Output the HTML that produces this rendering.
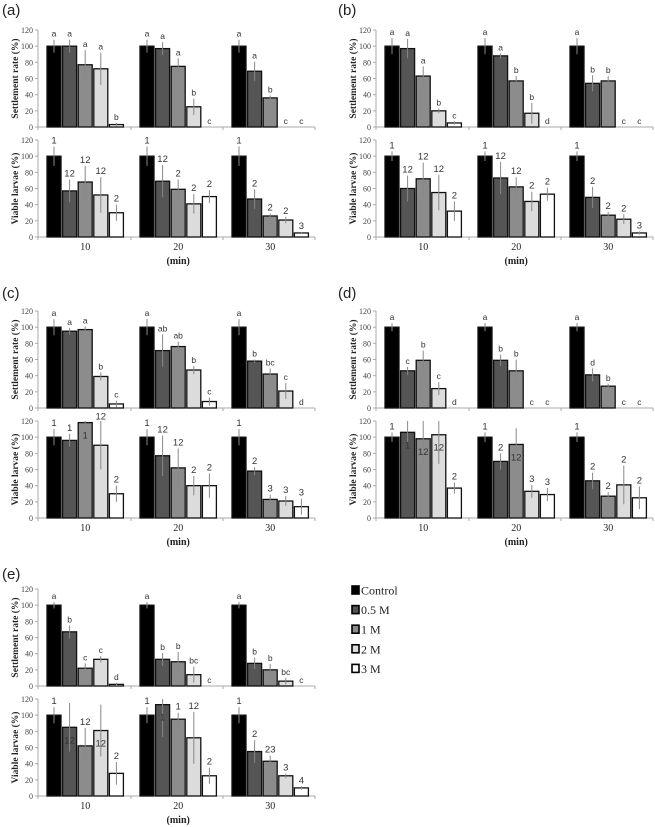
<!DOCTYPE html>
<html><head><meta charset="utf-8"><style>
body{margin:0;background:#fff}
svg{display:block}
text{font-family:"Liberation Serif",serif}
.pl{font-family:"Liberation Sans",sans-serif;font-size:15px;fill:#222}
.tk{font-size:8px;fill:#444}
.lt{font-family:"Liberation Sans",sans-serif;font-size:8.5px;fill:#333}
.nm{font-family:"Liberation Sans",sans-serif;font-size:9.5px;fill:#333}
.yt{font-size:9.5px;font-weight:bold;fill:#222}
.cat{font-size:10px;fill:#222}
.lg{font-size:12px;fill:#222}
</style></head><body>
<svg id="fig" width="655" height="827" viewBox="0 0 655 827" xmlns="http://www.w3.org/2000/svg"></svg>
<script>
const panelNames=['a','b','c','d','e'];
const groups=['10','20','30'];
const series=['Control','0.5 M','1 M','2 M','3 M'];
const yTicks=[0,20,40,60,80,100,120];
const setA=[[100,100,77,72,3],[100,97,75,25,0],[100,69,36,0,0]];
const setAErr=[[8,8,18,20,2],[8,8,10,10,0],[8,12,3,0,0]];
const setALab=[['a','a','a','a','b'],['a','a','a','b','c'],['a','a','b','c','c']];
const viaA=[[100,57,68,52,30],[100,69,59,41,50],[100,47,26,21,5]];
const viaAErr=[[12,14,20,22,10],[12,20,12,12,8],[12,12,3,4,1]];
const viaALab=[['1','12','12','12','2'],['1','12','2','2','2'],['1','2','2','2','3']];
const setB=[[100,97,63,20,5],[100,88,57,17,0],[100,54,57,0,0]];
const setBErr=[[10,12,12,3,2],[10,3,6,13,0],[10,10,6,0,0]];
const setBLab=[['a','a','a','b','c'],['a','a','b','b','d'],['a','b','b','c','c']];
const viaB=[[100,60,72,55,32],[100,73,62,44,53],[100,49,27,22,5]];
const viaBErr=[[6,16,20,22,12],[6,20,12,12,8],[6,13,4,6,2]];
const viaBLab=[['1','12','12','12','2'],['1','12','12','2','2'],['1','2','2','2','3']];
const setC=[[100,95,97,39,5],[100,71,76,47,8],[100,58,42,21,0]];
const setCErr=[[10,4,4,5,4],[10,20,6,5,5],[10,2,7,10,0]];
const setCLab=[['a','a','a','b','c'],['a','ab','ab','b','c'],['a','b','bc','c','d']];
const viaC=[[100,96,118,90,30],[100,77,62,40,40],[100,58,23,21,14]];
const viaCErr=[[10,8,3,30,10],[10,25,24,12,15],[10,5,6,6,10]];
const viaCLab=[['1','1','*1','12','2'],['1','12','12','2','2'],['1','2','3','3','3']];
const setD=[[100,46,59,24,0],[100,59,46,0,0],[100,41,27,0,0]];
const setDErr=[[5,5,12,8,0],[5,7,14,0,0],[5,8,3,0,0]];
const setDLab=[['a','c','b','c','d'],['a','b','b','c','c'],['a','d','b','c','c']];
const viaD=[[100,106,98,103,37],[100,70,91,33,29],[100,46,27,41,25]];
const viaDErr=[[6,14,32,36,7],[6,10,20,8,8],[6,10,5,24,14]];
const viaDLab=[['1','*1','*12','*12','2'],['1','2','*12','3','3'],['1','2','2','2','2']];
const setE=[[100,67,22,33,2],[100,33,30,14,0],[100,28,20,6,0]];
const setEErr=[[4,8,6,4,2],[4,8,12,10,0],[4,7,7,4,0]];
const setELab=[['a','b','c','c','d'],['a','b','b','bc','c'],['a','b','b','bc','c']];
const viaE=[[100,85,62,81,28],[100,113,95,72,25],[100,55,43,25,10]];
const viaEErr=[[10,30,22,32,14],[10,40,8,32,10],[10,14,7,3,2]];
const viaELab=[['1','*12','12','*12','2'],['1','*1','1','12','2'],['1','2','23','3','4']];

const S={a:[setA,setAErr,setALab,viaA,viaAErr,viaALab],b:[setB,setBErr,setBLab,viaB,viaBErr,viaBLab],
 c:[setC,setCErr,setCLab,viaC,viaCErr,viaCLab],d:[setD,setDErr,setDLab,viaD,viaDErr,viaDLab],
 e:[setE,setEErr,setELab,viaE,viaEErr,viaELab]};
const offs={a:[0,0],b:[338,0],c:[0,281],d:[338,281],e:[0,559]};
const fills=['#000','#555','#8c8c8c','#dcdcdc','#fff'];
const NS='http://www.w3.org/2000/svg';
const svg=document.getElementById('fig');
function mk(tag,attrs,parent,txt){const e=document.createElementNS(NS,tag);for(const k in attrs)e.setAttribute(k,attrs[k]);if(txt!==undefined)e.textContent=txt;(parent||svg).appendChild(e);return e;}

panelNames.forEach(p=>{
  const [ox,oy]=offs[p];
  const g=mk('g',{transform:`translate(${ox},${oy})`});
  
  
  const lab=mk('text',{x:p==='a'||p==='c'||p==='e'?2:0,y:p==='a'||p==='b'?15:(p==='e'?20:17),class:'pl'},g,'('+p+')');
  
  
  const ax0=38,ax1=315;
  const plots=[{top:30,bot:127,vals:S[p][0],err:S[p][1],lab:S[p][2],title:'Settlement rate (%)',cls:'lt',nm:'settlement'},
               {top:140,bot:237,vals:S[p][3],err:S[p][4],lab:S[p][5],title:'Viable larvae (%)',cls:'nm',nm:'viable'}];
  const bx=(gi,si)=>ax0+[9,102,194][gi]+si*15.6;
  plots.forEach(pl=>{
    const sub=mk('g',{},g);
    
    
    const y=v=>pl.bot-(v/120)*(pl.bot-pl.top);
    mk('line',{x1:ax0,x2:ax0,y1:pl.top,y2:pl.bot,stroke:'#aaa','stroke-width':1},sub);
    mk('line',{x1:ax0,x2:ax1,y1:pl.bot,y2:pl.bot,stroke:'#aaa','stroke-width':1},sub);
    [ax0,ax0+93,ax0+185,ax1].forEach(x=>mk('line',{x1:x,x2:x,y1:pl.bot,y2:pl.bot+3,stroke:'#aaa'},sub));
    yTicks.forEach(t=>{
      mk('line',{x1:ax0-3,x2:ax0,y1:y(t),y2:y(t),stroke:'#aaa'},sub);
      const tt=mk('text',{x:ax0-5,y:y(t)+3,'text-anchor':'end',class:'tk'},sub,String(t));
      
      
    });
    const yc=(pl.top+pl.bot)/2;
    const yt=mk('text',{x:0,y:0,transform:`translate(18,${yc}) rotate(-90)`,'text-anchor':'middle',class:'yt'},sub,pl.title);
    
    
    pl.vals.forEach((row,gi)=>row.forEach((v,si)=>{
      const x=bx(gi,si),e=pl.err[gi][si];
      if(v>0){
        const r=mk('rect',{x:x,y:y(v),width:14,height:pl.bot-y(v),fill:fills[si],stroke:'#111','stroke-width':1.3},sub);
        
        
      }
      if(e>0){
        const l=mk('line',{x1:x+7,x2:x+7,y1:y(Math.min(120,v+e)),y2:y(Math.max(0,v-e)),stroke:'#888','stroke-width':1},sub);
        
        
      }
      let s=pl.lab[gi][si],inside=false;
      if(s[0]==='*'){inside=true;s=s.slice(1);}
      const ly=inside?y(v)+16:y(Math.min(118,v+e))-3;
      const t=mk('text',{x:x+7,y:ly,'text-anchor':'middle',class:pl.cls},sub,s);
      
      
    }));
  });
  groups.forEach((c,gi)=>{
    const t=mk('text',{x:bx(gi,2)+7,y:250,'text-anchor':'middle',class:'cat'},g,c);
    
    
  });
  const mt=mk('text',{x:bx(1,2)+7,y:264,'text-anchor':'middle',class:'cat','font-weight':'bold'},g,'(min)');
  
  
});
const lg=mk('g',{});


series.forEach((s,i)=>{
  const yy=591+i*19.6;
  const e=mk('g',{},lg);
  
  
  mk('rect',{x:352,y:yy-5,width:7,height:8,fill:fills[i],stroke:'#000','stroke-width':1.6},e);
  mk('text',{x:361,y:yy+3.5,class:'lg'},e,s);
});
</script>
</body></html>
